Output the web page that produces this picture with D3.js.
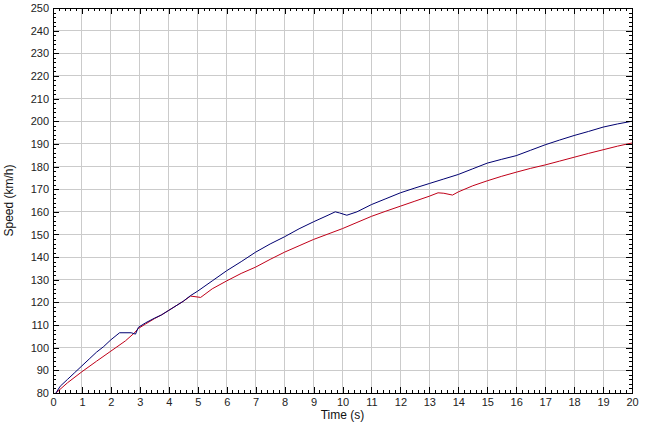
<!DOCTYPE html>
<html lang="en">
<head>
  <meta charset="utf-8">
  <title>Speed vs time</title>
  <script src="https://d3js.org/d3.v7.min.js"></script>
  <style>
    body { margin: 0; background: #fff; }
    svg text { font-family: Arial, "Liberation Sans", sans-serif; }
  </style>
</head>
<body>
<div id="chart"></div>
<script>
// Time (s) and speed (km/h) samples
var blueTime  = [0.1, 0.25, 0.5, 0.75, 1.0, 1.25, 1.5, 1.75, 2.0, 2.3, 2.7, 2.85, 2.95, 3.2, 3.5, 3.75, 4.0, 4.5, 4.75, 5.0,
                 5.5, 6.0, 6.5, 7.0, 7.5, 8.0, 8.5, 9.0, 9.5, 9.75, 9.9, 10.15, 10.5, 11.0, 11.5, 12.0, 12.5, 13.0, 13.5,
                 14.0, 14.5, 15.0, 15.5, 16.0, 16.5, 17.0, 17.5, 18.0, 18.5, 19.0, 19.5, 20.0];
var blueSpeed = [80, 83, 86, 89, 92, 95, 98, 100.5, 103.5, 106.6, 106.6, 106, 109, 111, 113, 114.5, 116.5, 120.5, 123, 125,
                 129.5, 134, 138, 142.2, 145.8, 149, 152.5, 155.6, 158.5, 160, 159.5, 158.5, 160, 163.2, 165.8, 168.4, 170.5, 172.5, 174.5,
                 176.5, 179, 181.5, 183.2, 184.8, 187.2, 189.6, 191.7, 193.7, 195.5, 197.4, 198.8, 200];

var redTime  = [0.1, 0.5, 1.0, 1.5, 2.0, 2.5, 2.8, 2.95, 3.2, 3.5, 3.75, 4.0, 4.5, 4.75, 5.1, 5.5, 6.0, 6.5, 7.0, 7.5,
                8.0, 8.5, 9.0, 9.5, 10.0, 10.5, 11.0, 11.5, 12.0, 12.5, 13.0, 13.3, 13.5, 13.8, 14.0, 14.5, 15.0, 15.5,
                16.0, 16.5, 17.0, 17.5, 18.0, 18.5, 19.0, 19.5, 20.0];
var redSpeed = [80, 84.5, 89.4, 94, 98.5, 103, 106.4, 108.5, 110.5, 112.8, 114.5, 116.5, 120.5, 122.8, 122.2, 126, 129.5, 132.8, 135.6, 139,
                142.2, 145, 147.8, 150.2, 152.6, 155.3, 158, 160.3, 162.5, 164.7, 166.9, 168.4, 168.2, 167.4, 168.8, 171.5, 173.7, 175.7,
                177.5, 179.2, 180.7, 182.4, 184.1, 185.8, 187.4, 189, 190.4];

var xTicks = d3.range(0, 21, 1);
var yTicks = d3.range(80, 251, 10);

var W = 659, H = 427;
var svg = d3.select("#chart").append("svg")
  .attr("width", W).attr("height", H);

var x = d3.scaleLinear().domain([0, 20]).range([53, 632]);
var y = d3.scaleLinear().domain([80, 250]).range([393, 8]);

// grid
var grid = svg.append("g").attr("shape-rendering", "crispEdges");
grid.selectAll(".gx").data(xTicks.slice(1, -1)).enter().append("line")
  .attr("x1", function(d) { return x(d); }).attr("x2", function(d) { return x(d); })
  .attr("y1", y(80)).attr("y2", y(250))
  .attr("stroke", "#cbcbcb");
grid.selectAll(".gy").data(yTicks.slice(1, -1)).enter().append("line")
  .attr("y1", function(d) { return y(d); }).attr("y2", function(d) { return y(d); })
  .attr("x1", x(0)).attr("x2", x(20))
  .attr("stroke", "#cbcbcb");

// series
var line = d3.line()
  .x(function(d) { return x(d[0]); })
  .y(function(d) { return y(d[1]); });

svg.append("path")
  .datum(d3.zip(redTime, redSpeed))
  .attr("d", line).attr("fill", "none")
  .attr("stroke", "#c00018").attr("stroke-width", 1);
svg.append("path")
  .datum(d3.zip(blueTime, blueSpeed))
  .attr("d", line).attr("fill", "none")
  .attr("stroke", "#000070").attr("stroke-width", 1);

// axes: major + minor ticks, inward on all sides
var xMinor = d3.range(0, 20.01, 0.2);
var yMinor = d3.range(80, 250.01, 2);

function axisGroup(axis, tx, ty) {
  var g = svg.append("g")
    .attr("transform", "translate(" + tx + "," + ty + ")")
    .attr("shape-rendering", "crispEdges")
    .call(axis);
  g.select(".domain").attr("stroke", "#000");
  g.selectAll(".tick line").attr("stroke", "#000");
  g.selectAll("text").attr("fill", "#222").style("font-size", "11px");
  return g;
}

axisGroup(d3.axisBottom(x).tickValues(xMinor).tickSize(-3).tickFormat(""), 0, y(80));
axisGroup(d3.axisBottom(x).tickValues(xTicks).tickSizeInner(-6).tickSizeOuter(0).tickPadding(5).tickFormat(d3.format("d")), 0, y(80));
axisGroup(d3.axisTop(x).tickValues(xMinor).tickSize(-3).tickFormat(""), 0, y(250));
axisGroup(d3.axisTop(x).tickValues(xTicks).tickSizeInner(-6).tickSizeOuter(0).tickFormat(""), 0, y(250));

axisGroup(d3.axisLeft(y).tickValues(yMinor).tickSize(-3).tickFormat(""), x(0), 0);
axisGroup(d3.axisLeft(y).tickValues(yTicks).tickSizeInner(-6).tickSizeOuter(0).tickPadding(4).tickFormat(d3.format("d")), x(0), 0);
axisGroup(d3.axisRight(y).tickValues(yMinor).tickSize(-3).tickFormat(""), x(20), 0);
axisGroup(d3.axisRight(y).tickValues(yTicks).tickSizeInner(-6).tickSizeOuter(0).tickFormat(""), x(20), 0);

// titles
svg.append("text")
  .attr("x", (x(0) + x(20)) / 2).attr("y", 419)
  .attr("text-anchor", "middle").style("font-size", "12px").attr("fill", "#111")
  .text("Time (s)");
svg.append("text")
  .attr("transform", "translate(13," + (y(165)) + ") rotate(-90)")
  .attr("text-anchor", "middle").style("font-size", "12px").attr("fill", "#111")
  .text("Speed (km/h)");
</script>
</body>
</html>
